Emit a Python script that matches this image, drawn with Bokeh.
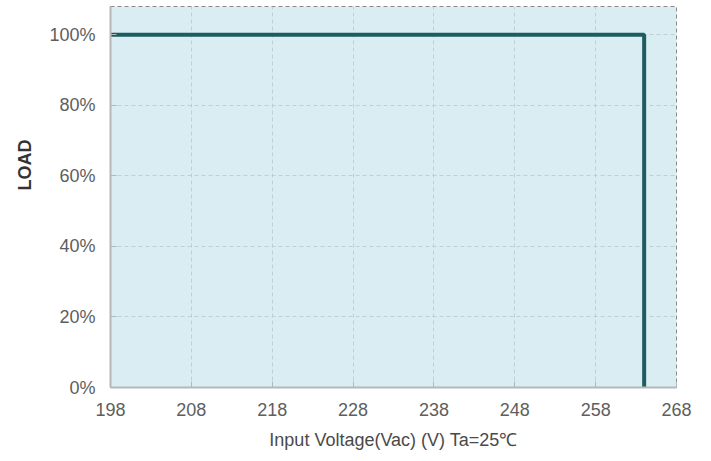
from bokeh.plotting import figure
from bokeh.embed import file_html
from bokeh.resources import INLINE
from bokeh.models import Range1d, FixedTicker, CustomJSTickFormatter, Title

voltage = [198, 264, 264]
load = [100, 100, 0]
x_ticks = [198, 208, 218, 228, 238, 248, 258, 268]
y_ticks = [0, 20, 40, 60, 80, 100]

p = figure(width=703, height=453, output_backend="svg", toolbar_location=None,
           x_range=Range1d(198, 268), y_range=Range1d(0, 108),
           min_border_left=110, min_border_right=27, min_border_top=6, min_border_bottom=66)

p.background_fill_color = "#d9edf2"
p.border_fill_color = "white"
p.outline_line_color = "#8a8a8a"
p.outline_line_dash = "4 3"
p.outline_line_width = 1

p.line(voltage, load, line_color="#1f5c60", line_width=4)

p.xaxis.ticker = FixedTicker(ticks=x_ticks)
p.yaxis.ticker = FixedTicker(ticks=y_ticks)
p.yaxis.formatter = CustomJSTickFormatter(code="return tick + '%';")

for ax in (p.xaxis[0], p.yaxis[0]):
    ax.axis_line_color = "#b5b8ba"
    ax.axis_line_width = 2
    ax.major_tick_in = 6
    ax.major_tick_out = 0
    ax.major_tick_line_color = "#b5b8ba"
    ax.minor_tick_line_color = None
    ax.major_label_text_font = "Liberation Sans"
    ax.major_label_text_font_size = "18px"
    ax.major_label_text_color = "#5e5e5e"
    ax.axis_label_text_font = "Liberation Sans"

p.xaxis.major_label_standoff = 15
p.yaxis.major_label_standoff = 15

p.xaxis.axis_label = "Input Voltage(Vac) (V) Ta=25℃"
p.xaxis.axis_label_text_font_style = "normal"
p.xaxis.axis_label_text_font_size = "18px"
p.xaxis.axis_label_text_color = "#4a4a4a"
p.xaxis.axis_label_standoff = 11

load_title = Title(text="LOAD", align="right", offset=133,
                   text_font="Liberation Sans", text_font_style="bold",
                   text_font_size="18px", text_color="#333333", standoff=24)
p.add_layout(load_title, "left")

p.xgrid.grid_line_color = "#b8c8cc"
p.xgrid.grid_line_dash = "4 3"
p.xgrid.grid_line_alpha = 0.8
p.ygrid.grid_line_color = "#b8c8cc"
p.ygrid.grid_line_dash = "4 3"
p.ygrid.grid_line_alpha = 0.8

open("out.html", "w").write(file_html(p, INLINE))
